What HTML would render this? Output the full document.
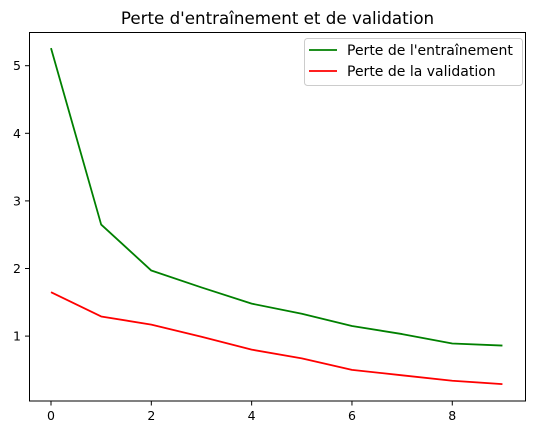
<!DOCTYPE html>
<html><head><meta charset="utf-8"><style>
body{margin:0;background:#fff}
svg{display:block;font-family:"DejaVu Sans","Liberation Sans",sans-serif}
</style></head><body>
<svg id="chart" width="534" height="435" xmlns="http://www.w3.org/2000/svg">
<text x="277.5" y="24" text-anchor="middle" font-size="16.7">Perte d'entraînement et de validation</text>
<g id="ticks"></g>
<g id="lines"></g>
<rect x="29.5" y="32.5" width="496" height="368.5" fill="none" stroke="#000" stroke-width="1"/>
<g>
<rect x="304.5" y="38.5" width="218" height="47" rx="3" fill="#fff" fill-opacity="0.8" stroke="#ccc"/>
<line x1="309" y1="50" x2="337" y2="50" stroke="green" stroke-width="1.8"/>
<text x="347" y="55" font-size="14">Perte de l'entraînement</text>
<line x1="309" y1="71" x2="337" y2="71" stroke="red" stroke-width="1.8"/>
<text x="347" y="76" font-size="14">Perte de la validation</text>
</g>
</svg>
<script>
const epochs=[0,1,2,3,4,5,6,7,8,9];
const trainLoss=[5.26,2.65,1.97,1.72,1.48,1.33,1.15,1.03,0.89,0.86];
const valLoss=[1.65,1.29,1.17,0.99,0.80,0.67,0.50,0.42,0.34,0.29];
const xTicks=[0,2,4,6,8];
const yTicks=[1,2,3,4,5];
const NS="http://www.w3.org/2000/svg";
const xs=v=>51+v*50.16;
const ys=v=>403.7-v*67.6;
function mk(t,a,p){const e=document.createElementNS(NS,t);for(const k in a)e.setAttribute(k,a[k]);p.appendChild(e);return e;}
const tk=document.getElementById('ticks');
xTicks.forEach(v=>{
 const l=mk('line',{x1:xs(v),x2:xs(v),y1:401,y2:405.5,stroke:'#000'},tk);
 
 
 const t=mk('text',{x:xs(v),y:420,'text-anchor':'middle','font-size':'12.5'},tk);t.textContent=v;
 
 
});
yTicks.forEach(v=>{
 const l=mk('line',{x1:25,x2:29.5,y1:ys(v),y2:ys(v),stroke:'#000'},tk);
 
 
 const t=mk('text',{x:21,y:ys(v)+4.5,'text-anchor':'end','font-size':'12.5'},tk);t.textContent=v;
 
 
});
const lg=document.getElementById('lines');
function series(data,color,name){
 const p=mk('polyline',{points:data.map((v,i)=>xs(epochs[i])+','+ys(v)).join(' '),fill:'none',stroke:color,'stroke-width':1.8,'stroke-linejoin':'round'},lg);
 
 
}
series(trainLoss,'green','train-loss-line');
series(valLoss,'red','val-loss-line');
</script>
</body></html>
